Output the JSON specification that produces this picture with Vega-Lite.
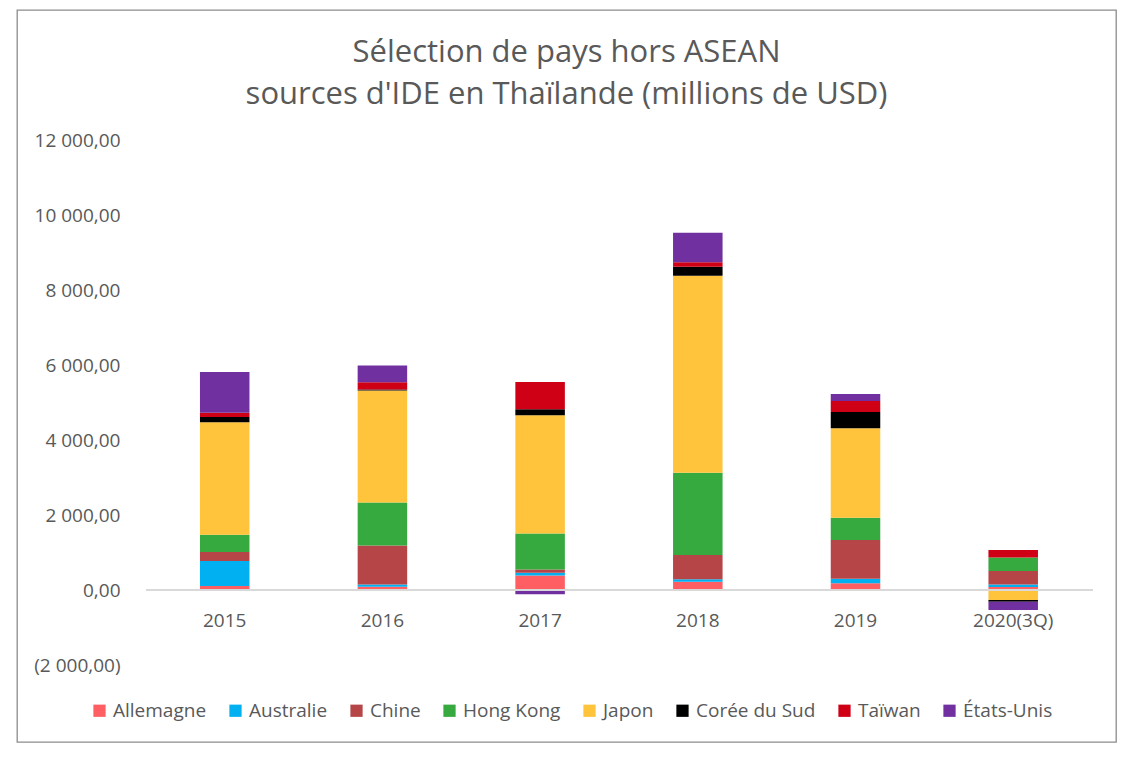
{
  "$schema": "https://vega.github.io/schema/vega-lite/v6.json",
  "width": 1099,
  "height": 732,
  "autosize": {"type": "none"},
  "padding": {"left": 17, "top": 10, "right": 18, "bottom": 16},
  "background": "white",
  "config": {
    "font": "Open Sans",
    "view": {"stroke": "#8C8C8C", "strokeWidth": 1.3},
    "axis": {"labelFont": "Open Sans", "labelColor": "#595959", "labelFontSize": 19},
    "legend": {"labelFont": "Open Sans", "labelColor": "#595959", "labelFontSize": 19}
  },
  "title": {
    "text": ["Sélection de pays hors ASEAN", "sources d'IDE en Thaïlande (millions de USD)"],
    "font": "Open Sans",
    "fontSize": 31,
    "fontWeight": "normal",
    "color": "#595959",
    "lineHeight": 42,
    "anchor": "middle",
    "frame": "group",
    "offset": -101
  },
  "data": {
    "values": [
      {"annee": "2015", "pays": "Allemagne", "valeur": 107},
      {"annee": "2015", "pays": "Australie", "valeur": 667},
      {"annee": "2015", "pays": "Chine", "valeur": 240},
      {"annee": "2015", "pays": "Hong Kong", "valeur": 461},
      {"annee": "2015", "pays": "Japon", "valeur": 2997},
      {"annee": "2015", "pays": "Corée du Sud", "valeur": 142},
      {"annee": "2015", "pays": "Taïwan", "valeur": 115},
      {"annee": "2015", "pays": "États-Unis", "valeur": 1085},
      {"annee": "2016", "pays": "Allemagne", "valeur": 89},
      {"annee": "2016", "pays": "Australie", "valeur": 60},
      {"annee": "2016", "pays": "Chine", "valeur": 1040},
      {"annee": "2016", "pays": "Hong Kong", "valeur": 1147},
      {"annee": "2016", "pays": "Japon", "valeur": 2987},
      {"annee": "2016", "pays": "Corée du Sud", "valeur": 27},
      {"annee": "2016", "pays": "Taïwan", "valeur": 187},
      {"annee": "2016", "pays": "États-Unis", "valeur": 453},
      {"annee": "2017", "pays": "Allemagne", "valeur": 390},
      {"annee": "2017", "pays": "Australie", "valeur": 71},
      {"annee": "2017", "pays": "Chine", "valeur": 89},
      {"annee": "2017", "pays": "Hong Kong", "valeur": 960},
      {"annee": "2017", "pays": "Japon", "valeur": 3147},
      {"annee": "2017", "pays": "Corée du Sud", "valeur": 160},
      {"annee": "2017", "pays": "Taïwan", "valeur": 729},
      {"annee": "2017", "pays": "États-Unis", "valeur": -110},
      {"annee": "2018", "pays": "Allemagne", "valeur": 222},
      {"annee": "2018", "pays": "Australie", "valeur": 62},
      {"annee": "2018", "pays": "Chine", "valeur": 649},
      {"annee": "2018", "pays": "Hong Kong", "valeur": 2196},
      {"annee": "2018", "pays": "Japon", "valeur": 5253},
      {"annee": "2018", "pays": "Corée du Sud", "valeur": 240},
      {"annee": "2018", "pays": "Taïwan", "valeur": 116},
      {"annee": "2018", "pays": "États-Unis", "valeur": 791},
      {"annee": "2019", "pays": "Allemagne", "valeur": 178},
      {"annee": "2019", "pays": "Australie", "valeur": 124},
      {"annee": "2019", "pays": "Chine", "valeur": 1031},
      {"annee": "2019", "pays": "Hong Kong", "valeur": 596},
      {"annee": "2019", "pays": "Japon", "valeur": 2382},
      {"annee": "2019", "pays": "Corée du Sud", "valeur": 436},
      {"annee": "2019", "pays": "Taïwan", "valeur": 293},
      {"annee": "2019", "pays": "États-Unis", "valeur": 187},
      {"annee": "2020(3Q)", "pays": "Allemagne", "valeur": 80},
      {"annee": "2020(3Q)", "pays": "Australie", "valeur": 70},
      {"annee": "2020(3Q)", "pays": "Chine", "valeur": 356},
      {"annee": "2020(3Q)", "pays": "Hong Kong", "valeur": 364},
      {"annee": "2020(3Q)", "pays": "Japon", "valeur": -267},
      {"annee": "2020(3Q)", "pays": "Corée du Sud", "valeur": -45},
      {"annee": "2020(3Q)", "pays": "Taïwan", "valeur": 196},
      {"annee": "2020(3Q)", "pays": "États-Unis", "valeur": -222}
    ]
  },
  "transform": [
    {"calculate": "indexof(['Allemagne','Australie','Chine','Hong Kong','Japon','Corée du Sud','Taïwan','États-Unis'], datum.pays)", "as": "ordre"}
  ],
  "encoding": {
    "x": {
      "field": "annee",
      "type": "nominal",
      "sort": null,
      "scale": {"paddingInner": 0.686, "paddingOuter": 0.8275, "align": 0.701},
      "axis": {
        "title": null,
        "orient": "bottom",
        "offset": -152,
        "domain": false,
        "ticks": false,
        "labelAngle": 0,
        "labelPadding": 21,
        "grid": false
      }
    },
    "y": {
      "type": "quantitative",
      "scale": {"domain": [-4053.33, 15466.67], "nice": false, "zero": false},
      "axis": {
        "title": null,
        "values": [-2000, 0, 2000, 4000, 6000, 8000, 10000, 12000],
        "labelExpr": "replace(replace(format(datum.value, '(,.2f'), ',', ' '), '.', ',')",
        "grid": false,
        "domain": false,
        "ticks": false,
        "offset": -108,
        "labelPadding": 5
      }
    }
  },
  "layer": [
    {
      "mark": {"type": "bar"},
      "encoding": {
        "y": {"field": "valeur", "type": "quantitative", "stack": "zero"},
        "order": {"field": "ordre", "type": "quantitative", "sort": "ascending"},
        "color": {
          "field": "pays",
          "type": "nominal",
          "scale": {
            "domain": ["Allemagne", "Australie", "Chine", "Hong Kong", "Japon", "Corée du Sud", "Taïwan", "États-Unis"],
            "range": ["#FF5F63", "#00B0F0", "#B64548", "#36A93F", "#FFC43C", "#000000", "#CF0015", "#7030A0"]
          },
          "legend": {
            "title": null,
            "orient": "none",
            "legendX": 73,
            "legendY": 691,
            "direction": "horizontal",
            "columns": 8,
            "columnPadding": 19,
            "symbolType": "square",
            "symbolSize": 150,
            "symbolStrokeWidth": 0,
            "labelOffset": 4,
            "padding": 0
          }
        }
      }
    },
    {
      "mark": {"type": "rule", "color": "#D9D9D9", "strokeWidth": 1.5},
      "encoding": {
        "x": {"datum": "2015", "bandPosition": -1.077},
        "x2": {"datum": "2020(3Q)", "bandPosition": 2.105},
        "y": {"datum": 0}
      }
    }
  ]
}
